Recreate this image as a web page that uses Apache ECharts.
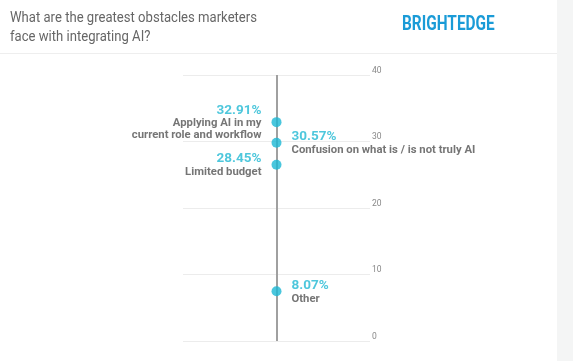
<!DOCTYPE html>
<html><head><meta charset="utf-8">
<script src="https://cdn.jsdelivr.net/npm/echarts@6/dist/echarts.min.js"></script>
<style>html,body{margin:0;padding:0;background:#fff}#c{width:573px;height:361px}</style>
</head><body><div id="c"></div>
<script>
const titleLines = ['What are the greatest obstacles marketers', 'face with integrating AI?'];
const brand = 'BRIGHTEDGE';
const categories = ['Applying AI in my\ncurrent role and workflow', 'Confusion on what is / is not truly AI', 'Limited budget', 'Other'];
const values = [32.91, 30.57, 28.45, 8.07];
const yTicks = [0, 10, 20, 30, 40];

// presentation: which labels sit left of the line, and vertical dodge (px) to avoid overlap
const leftSide = {};
leftSide[categories[0]] = true;
leftSide[categories[2]] = true;
const dodge = {};
dodge[categories[1]] = 5;
dodge[categories[2]] = 13;
dodge[categories[3]] = 4;

const chart = echarts.init(document.getElementById('c'));
const fontFam = 'Roboto, "Noto Sans", sans-serif';

const pts = categories.map((name, i) => {
  const left = !!leftSide[name];
  const dy = dodge[name] || 0;
  const nameParts = name.split('\n').map(s => '{n|' + s + '}').join('\n');
  return {
    value: [0, values[i]],
    symbolOffset: [0, dy],
    label: {
      show: true,
      position: left ? 'left' : 'right',
      distance: 10,
      formatter: '{p|' + values[i].toFixed(2) + '%}\n' + nameParts,
      rich: {
        p: {color: '#22b9d3', fontSize: 13.5, fontWeight: 'bold', fontFamily: fontFam, lineHeight: 15, align: left ? 'right' : 'left'},
        n: {color: '#525252', fontSize: 11.3, fontWeight: 'bold', fontFamily: fontFam, lineHeight: 12, align: left ? 'right' : 'left'}
      }
    }
  };
});

chart.setOption({
  backgroundColor: '#ffffff',
  animation: false,
  graphic: [
    {type: 'rect', shape: {x: 557, y: 0, width: 16, height: 361}, style: {fill: '#f4f5f5'}, silent: true},
    {type: 'rect', shape: {x: 0, y: 53, width: 557, height: 1}, style: {fill: '#eeeeee'}, silent: true},
    {type: 'text', x: 10, y: 9, scaleX: 0.845, style: {text: titleLines.join('\n'), fill: '#666666', font: '15.5px ' + fontFam, lineHeight: 19}},
    {type: 'text', x: 402, y: 15, scaleX: 0.77, style: {text: brand, fill: '#1a9bd7', font: 'bold 20px ' + fontFam}}
  ],
  grid: {left: 183, right: 203, top: 75, bottom: 20},
  xAxis: {type: 'category', data: [''], show: false, boundaryGap: true},
  yAxis: {
    type: 'value', position: 'right', min: yTicks[0], max: yTicks[yTicks.length - 1], interval: 10,
    axisLine: {show: false}, axisTick: {show: false},
    axisLabel: {color: '#888888', fontSize: 8.5, margin: 2, fontFamily: fontFam, verticalAlign: 'bottom'},
    splitLine: {lineStyle: {color: '#ececec', width: 1}}
  },
  series: [{
    type: 'scatter',
    symbolSize: 10,
    itemStyle: {color: '#1cb8d4'},
    data: pts,
    z: 5,
    markLine: {
      silent: true, symbol: 'none', label: {show: false},
      lineStyle: {color: '#a0a0a0', width: 2, type: 'solid'},
      data: [{xAxis: 0}]
    }
  }]
});
</script></body></html>
